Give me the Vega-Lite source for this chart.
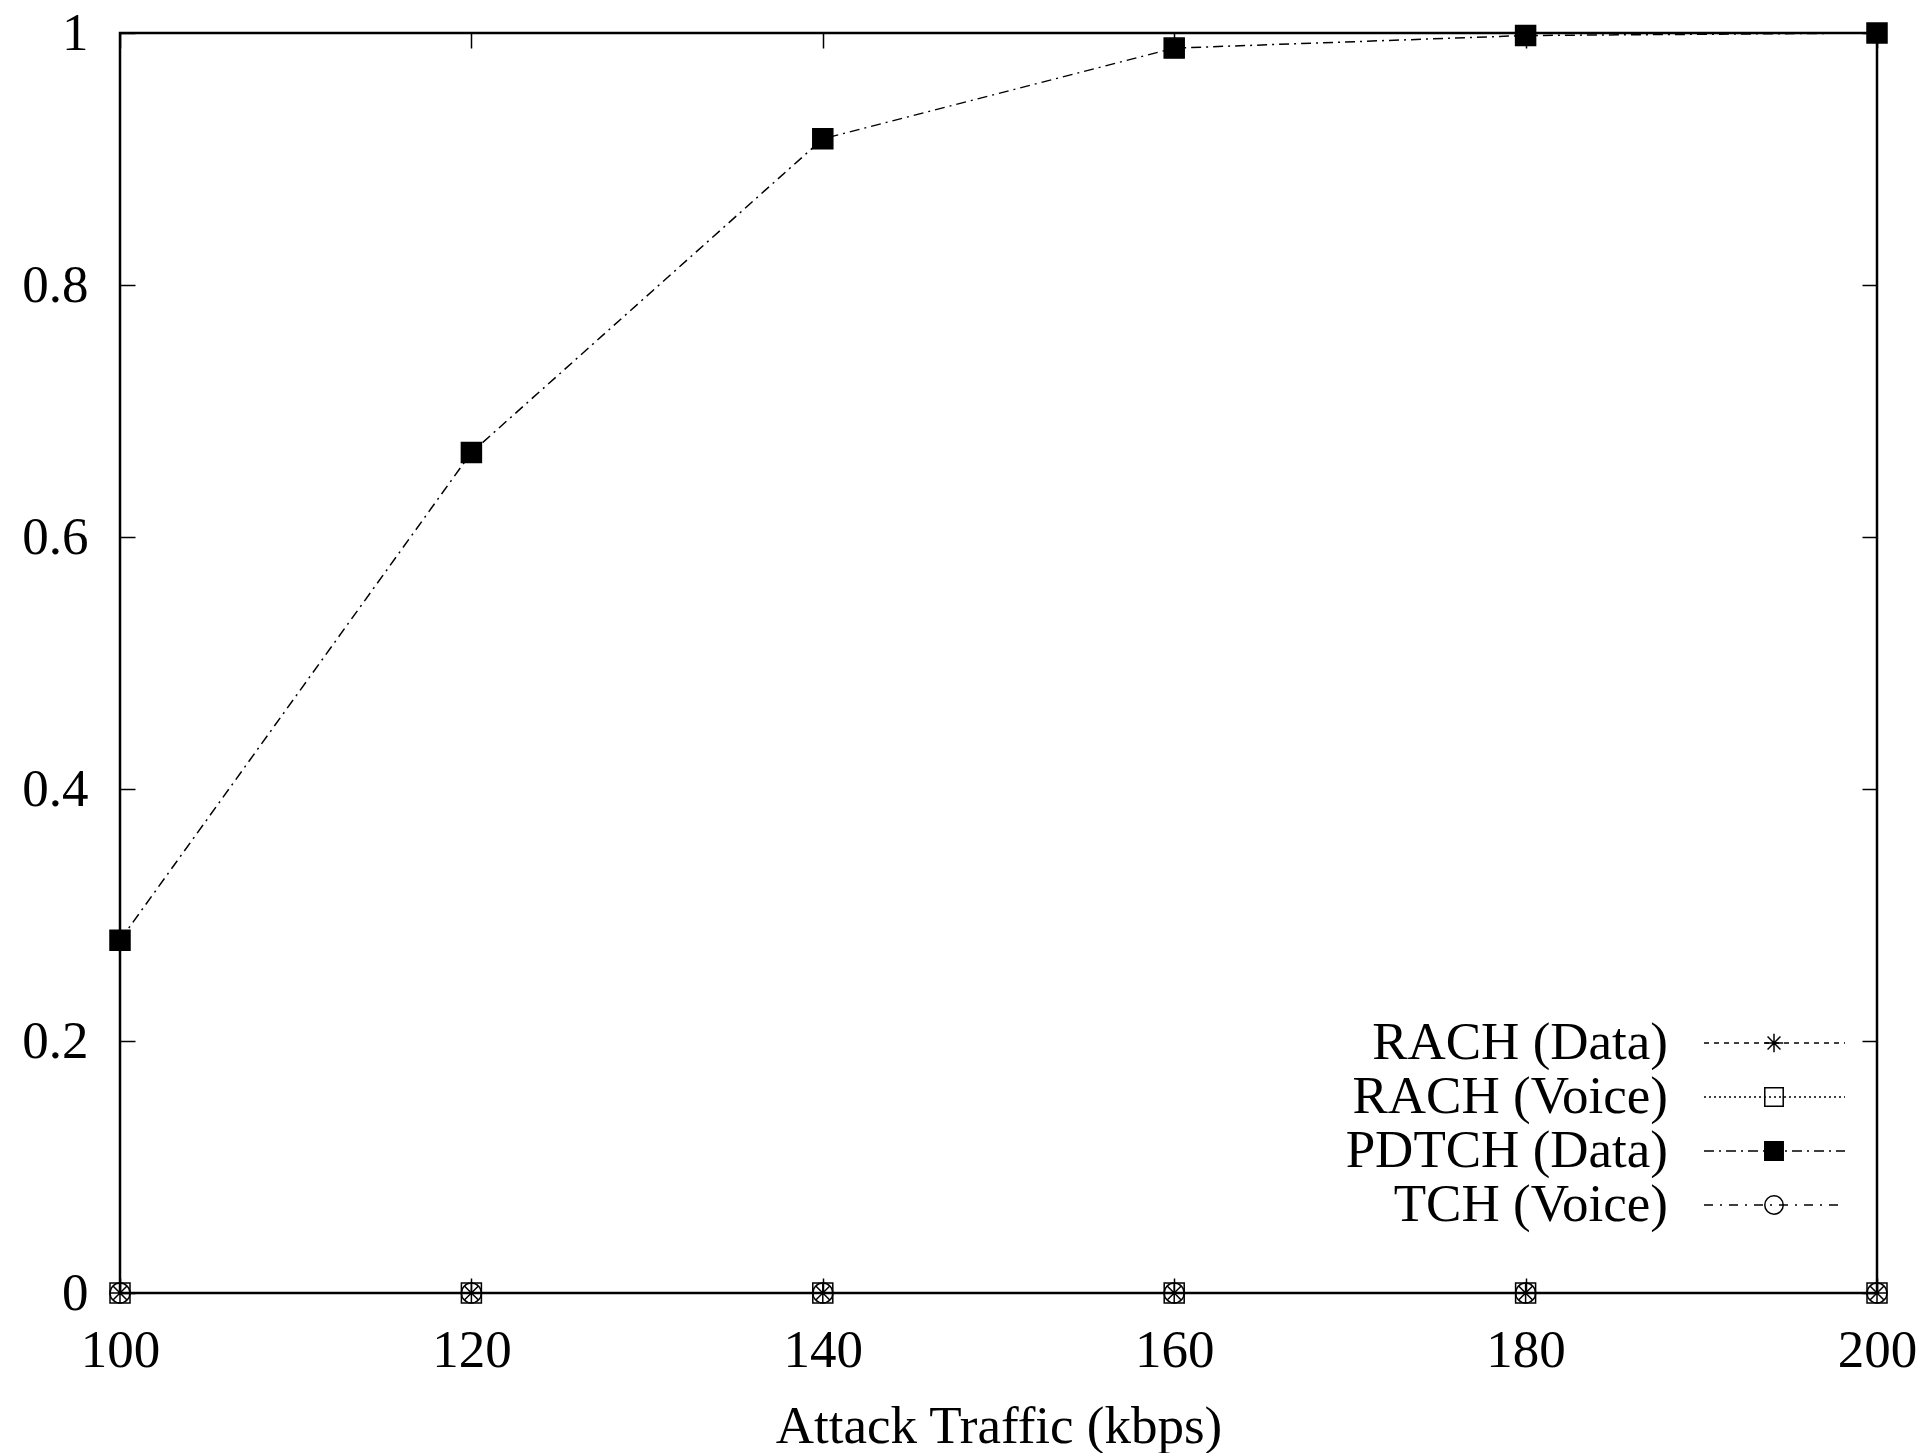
{
  "$schema": "https://vega.github.io/schema/vega-lite/v6.json",
  "width": 1757,
  "height": 1260,
  "padding": {"left": 21, "top": 7, "right": 5, "bottom": 5},
  "config": {
    "view": {"stroke": "black", "strokeWidth": 2.5},
    "font": "Liberation Serif"
  },
  "data": {
    "values": [
      {"traffic": 100, "value": 0, "series": "RACH (Data)"},
      {"traffic": 120, "value": 0, "series": "RACH (Data)"},
      {"traffic": 140, "value": 0, "series": "RACH (Data)"},
      {"traffic": 160, "value": 0, "series": "RACH (Data)"},
      {"traffic": 180, "value": 0, "series": "RACH (Data)"},
      {"traffic": 200, "value": 0, "series": "RACH (Data)"},
      {"traffic": 100, "value": 0, "series": "RACH (Voice)"},
      {"traffic": 120, "value": 0, "series": "RACH (Voice)"},
      {"traffic": 140, "value": 0, "series": "RACH (Voice)"},
      {"traffic": 160, "value": 0, "series": "RACH (Voice)"},
      {"traffic": 180, "value": 0, "series": "RACH (Voice)"},
      {"traffic": 200, "value": 0, "series": "RACH (Voice)"},
      {"traffic": 100, "value": 0.28, "series": "PDTCH (Data)"},
      {"traffic": 120, "value": 0.667, "series": "PDTCH (Data)"},
      {"traffic": 140, "value": 0.916, "series": "PDTCH (Data)"},
      {"traffic": 160, "value": 0.988, "series": "PDTCH (Data)"},
      {"traffic": 180, "value": 0.998, "series": "PDTCH (Data)"},
      {"traffic": 200, "value": 1.0, "series": "PDTCH (Data)"},
      {"traffic": 100, "value": 0, "series": "TCH (Voice)"},
      {"traffic": 120, "value": 0, "series": "TCH (Voice)"},
      {"traffic": 140, "value": 0, "series": "TCH (Voice)"},
      {"traffic": 160, "value": 0, "series": "TCH (Voice)"},
      {"traffic": 180, "value": 0, "series": "TCH (Voice)"},
      {"traffic": 200, "value": 0, "series": "TCH (Voice)"}
    ]
  },
  "layer": [
    {
      "mark": {"type": "line", "stroke": "black", "strokeWidth": 1.5},
      "encoding": {
        "x": {
          "field": "traffic", "type": "quantitative",
          "scale": {"domain": [100, 200], "nice": false, "zero": false},
          "axis": {
            "orient": "bottom", "values": [100, 120, 140, 160, 180, 200],
            "title": "Attack Traffic (kbps)",
            "labelFont": "Liberation Serif", "labelFontSize": 53, "labelColor": "black",
            "labelFlush": false, "labelPadding": 46,
            "tickSize": -15, "tickColor": "black", "tickWidth": 1.5,
            "domain": false, "grid": false,
            "titleFont": "Liberation Serif", "titleFontSize": 53, "titleFontWeight": "normal",
            "titleColor": "black", "titlePadding": 23
          }
        },
        "y": {
          "field": "value", "type": "quantitative",
          "scale": {"domain": [0, 1], "nice": false},
          "axis": {
            "orient": "left", "values": [0, 0.2, 0.4, 0.6, 0.8, 1], "format": "~g",
            "title": null,
            "labelFont": "Liberation Serif", "labelFontSize": 53, "labelColor": "black",
            "labelPadding": 47,
            "tickSize": -15, "tickColor": "black", "tickWidth": 1.5,
            "domain": false, "grid": false
          }
        },
        "strokeDash": {
          "field": "series", "type": "nominal",
          "sort": ["RACH (Data)", "RACH (Voice)", "PDTCH (Data)", "TCH (Voice)"],
          "scale": {"range": [[5, 5], [2, 3], [10, 5, 2, 5], [9, 7, 2, 7]]},
          "legend": {
            "orient": "none", "legendX": 1211, "legendY": 983.5, "title": null,
            "symbolType": "M13.86,0H19.5", "symbolSize": 2500,
            "symbolStrokeColor": "black", "symbolStrokeWidth": 1.5, "symbolFillColor": "transparent",
            "labelAlign": "right", "labelOffset": 284,
            "labelFont": "Liberation Serif", "labelFontSize": 53, "labelColor": "black",
            "labelLimit": 1000, "rowPadding": -2, "padding": 0
          }
        }
      }
    },
    {
      "mark": {"type": "point", "stroke": "black", "strokeWidth": 1.5, "size": 400, "opacity": 1},
      "encoding": {
        "x": {
          "field": "traffic", "type": "quantitative",
          "axis": {
            "orient": "top", "values": [100, 120, 140, 160, 180, 200],
            "labels": false, "title": null,
            "tickSize": -15, "tickColor": "black", "tickWidth": 1.5,
            "domain": false, "grid": false
          }
        },
        "y": {
          "field": "value", "type": "quantitative",
          "axis": {
            "orient": "right", "values": [0, 0.2, 0.4, 0.6, 0.8, 1],
            "labels": false, "title": null,
            "tickSize": -15, "tickColor": "black", "tickWidth": 1.5,
            "domain": false, "grid": false
          }
        },
        "shape": {
          "field": "series", "type": "nominal",
          "scale": {
            "domain": ["RACH (Data)", "RACH (Voice)", "PDTCH (Data)", "TCH (Voice)"],
            "range": ["M0,-1V1M-1,0H1M-0.7,-0.7L0.7,0.7M-0.7,0.7L0.7,-0.7", "square", "square", "circle"]
          },
          "legend": {
            "orient": "none", "legendX": 1627.5, "legendY": 983.5, "title": null,
            "symbolSize": 340, "symbolStrokeWidth": 1.5,
            "labelExpr": "' '", "labelFont": "Liberation Serif", "labelFontSize": 53,
            "labelLimit": 1000, "rowPadding": -2, "padding": 0
          }
        },
        "fill": {
          "field": "series", "type": "nominal",
          "scale": {
            "domain": ["RACH (Data)", "RACH (Voice)", "PDTCH (Data)", "TCH (Voice)"],
            "range": ["transparent", "transparent", "black", "transparent"]
          },
          "legend": {
            "orient": "none", "legendX": 1627.5, "legendY": 983.5, "title": null,
            "symbolSize": 340, "symbolStrokeWidth": 1.5,
            "labelExpr": "' '", "labelFont": "Liberation Serif", "labelFontSize": 53,
            "labelLimit": 1000, "rowPadding": -2, "padding": 0
          }
        }
      }
    }
  ],
  "resolve": {"axis": {"x": "independent", "y": "independent"}}
}
